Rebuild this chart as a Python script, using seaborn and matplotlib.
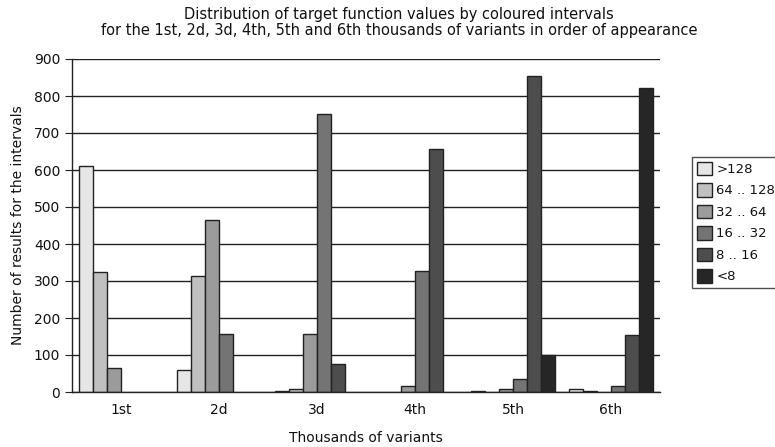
import matplotlib
matplotlib.use("Agg")
import matplotlib.pyplot as plt
import seaborn as sns
import pandas as pd
import numpy as np

groups = ["1st", "2d", "3d", "4th", "5th", "6th"]
intervals = [">128", "64 .. 128", "32 .. 64", "16 .. 32", "8 .. 16", "<8"]
v_gt128 = [612, 59, 3, 0, 3, 7]
v_64_128 = [323, 314, 7, 0, 0, 3]
v_32_64 = [65, 465, 158, 16, 7, 0]
v_16_32 = [0, 158, 752, 327, 36, 16]
v_8_16 = [0, 0, 77, 656, 853, 153]
v_lt8 = [0, 0, 0, 0, 99, 821]
series = [v_gt128, v_64_128, v_32_64, v_16_32, v_8_16, v_lt8]
colors = ["#e6e6e6", "#c0c0c0", "#9b9b9b", "#747474", "#4d4d4d", "#262626"]

rows = []
for name, vals in zip(intervals, series):
    for g, v in zip(groups, vals):
        rows.append({"group": g, "interval": name, "value": v})
df = pd.DataFrame(rows)

sns.set_style("white")
plt.rcParams['font.family'] = ['DejaVu Sans']
plt.rcParams['text.color'] = '#111111'
plt.rcParams['axes.labelcolor'] = '#111111'
plt.rcParams['xtick.color'] = '#111111'
plt.rcParams['ytick.color'] = '#111111'

fig = plt.figure(figsize=(7.75, 4.47), dpi=100)
ax = fig.add_axes([72/775, 1-392/447, (660-72)/775, (392-59)/447])

sns.barplot(data=df, x="group", y="value", hue="interval", hue_order=intervals,
            order=groups, palette=colors, width=0.857, gap=0, ax=ax,
            edgecolor="#222222", linewidth=1.0, saturation=1, legend=False)
for p in ax.patches:
    if p.get_height() == 0:
        p.set_visible(False)

ax.set_xlim(-0.5, 5.5)
ax.set_ylim(0, 900)
ax.set_yticks(np.arange(0, 901, 100))
ax.yaxis.grid(True, color="#222222", linewidth=1.0)
ax.set_axisbelow(True)
for s in ["top", "right"]:
    ax.spines[s].set_visible(False)
for s in ["left", "bottom"]:
    ax.spines[s].set_color("#222222")
    ax.spines[s].set_linewidth(1.0)

ax.set_xticks(range(6))
ax.set_xticklabels(groups)
ax.set_xticks(np.arange(-0.5, 6.0, 1.0), minor=True)
ax.tick_params(axis="x", which="major", length=0, pad=8, labelsize=10)
ax.tick_params(axis="x", which="minor", length=5, color="#222222", direction="out")
ax.tick_params(axis="y", length=5, color="#222222", direction="out", labelsize=10, left=True)

ax.set_xlabel("Thousands of variants", fontsize=10, labelpad=10)
ax.set_ylabel("Number of results for the intervals", fontsize=10, labelpad=6)

fig.text(0.515, 0.985, "Distribution of target function values by coloured intervals\n"
         "for the 1st, 2d, 3d, 4th, 5th and 6th thousands of variants in order of appearance",
         ha="center", va="top", fontsize=10.5, linespacing=1.1)

from matplotlib.patches import Patch
handles = [Patch(facecolor=c, edgecolor="#222222", linewidth=1.0) for c in colors]
leg = fig.legend(handles, intervals, loc="upper left", bbox_to_anchor=(692/775, 1-157/447),
                 fontsize=9.5, frameon=True, fancybox=False, handlelength=1.2, handleheight=1.2,
                 handletextpad=0.3, borderpad=0.35, labelspacing=0.55, borderaxespad=0)
leg.get_frame().set_edgecolor("#222222")
leg.get_frame().set_linewidth(1.0)

fig.savefig("out.png", dpi=100)
